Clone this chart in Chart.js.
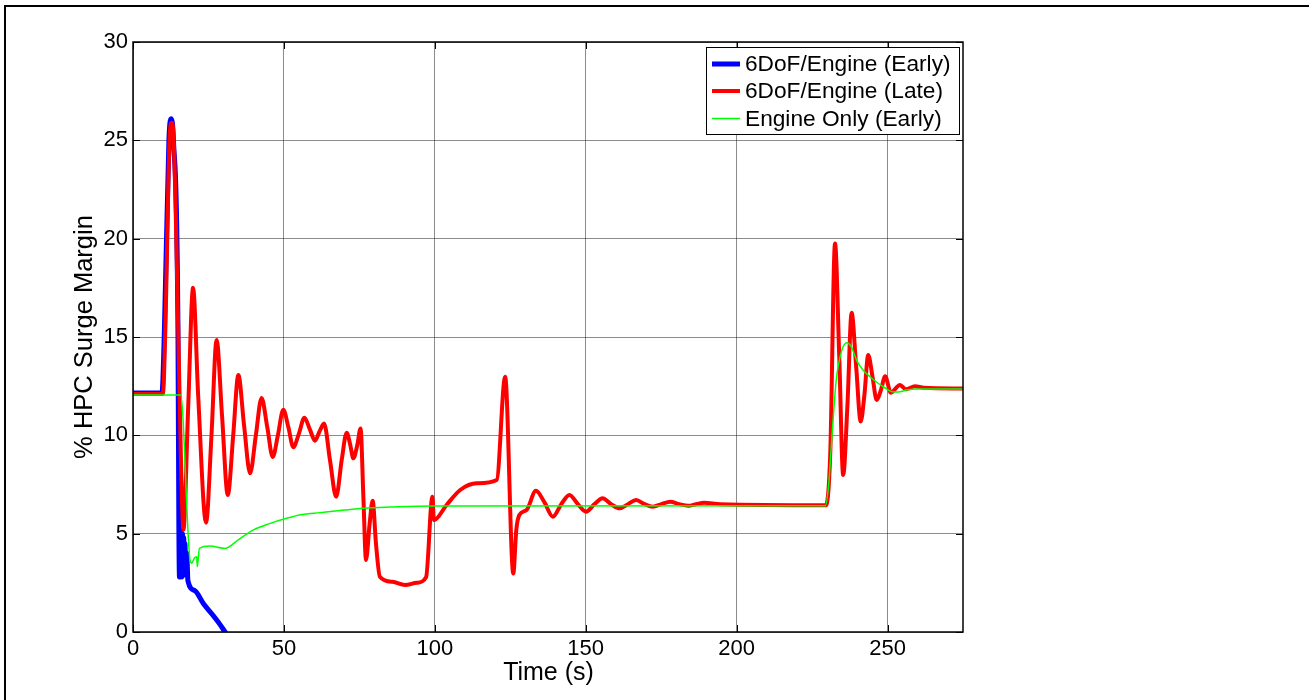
<!DOCTYPE html>
<html>
<head>
<meta charset="utf-8">
<script src="https://cdn.jsdelivr.net/npm/chart.js@4.4.1/dist/chart.umd.min.js"></script>
<style>
  html, body { margin: 0; padding: 0; background: #fff; }
  #contenedor { position: relative; width: 1309px; height: 700px; }
</style>
</head>
<body>
<div id="contenedor">
  <canvas id="miGrafica" width="1309" height="700"></canvas>
</div>
<script>
// datos de las tres corridas (tiempo en s, margen en %)
var earlyT = [0, 9.6, 10.4, 11.9, 12.6, 13.4, 14.9, 15.2, 15.4, 15.6, 15.8, 16.0, 16.2, 16.4, 16.6, 16.8, 17.0, 17.2, 17.5, 17.8, 18.2, 20.5, 23.3, 26.5, 28.5, 30.5];
var earlyV = [12.15, 12.15, 15.3, 25, 26.1, 25, 15.3, 5.3, 2.8, 5.2, 2.8, 5.1, 2.8, 5.0, 2.9, 4.8, 2.9, 4.5, 3.0, 4.0, 2.6, 2.1, 1.45, 0.85, 0.45, 0];

var lateT = [0, 9.9, 10.7, 12.1, 12.8, 13.5, 15.0, 16.0, 16.7, 18.3, 19.9, 21.6, 24.2, 26, 27.7, 29.5, 31.4, 33.2, 34.9, 36.8,
  38.8, 40.7, 42.6, 44.5, 46.3, 48, 49.8, 51.5, 53.1, 55, 56.8, 58.6, 60.3, 61.8, 63.3, 65.3, 67.3, 69.2, 70.8, 72,
  73, 74.3, 75.4, 76.3, 77.2, 78.4, 79.4, 80.5, 81.8, 86, 90.1, 94, 97.1, 99.2, 99.7, 103.9, 108.4, 113.9, 120.5, 123.3,
  126, 127, 128, 130.4, 133.5, 136.3, 139.1, 141.9, 144.6, 147.4, 150.1, 152.9, 155.6, 158.4, 161.2, 164, 166.7, 169.5, 172.2, 175.1,
  178, 181, 184, 186.6, 189.2, 194.5, 229.6, 231, 232.6, 234, 235.3, 236.7, 238.1, 239.6, 241.1, 242.3, 243.6, 245, 246.4, 247.8,
  249.2, 251.1, 254.1, 256.1, 259.1, 262, 275];
var lateV = [12.1, 12.1, 15.3, 25, 25.9, 25, 15.3, 8, 5.2, 11.5, 17.5, 12, 5.56, 10, 14.85, 11, 6.96, 10, 13.07, 10.5,
  8.07, 10, 11.9, 10.4, 8.9, 10, 11.3, 10.4, 9.4, 10.1, 10.9, 10.3, 9.73, 10.2, 10.6, 8.7, 6.88, 8.8, 10.13, 9.5,
  8.83, 9.5, 10.35, 7, 3.66, 5.5, 6.68, 4.5, 2.81, 2.55, 2.39, 2.5, 2.78, 6.88, 5.69, 6.46, 7.22, 7.56, 7.73, 12.98,
  2.98, 5.2, 5.95, 6.2, 7.18, 6.6, 5.86, 6.5, 6.97, 6.5, 6.12, 6.5, 6.8, 6.5, 6.29, 6.5, 6.71, 6.5, 6.37, 6.5,
  6.62, 6.5, 6.42, 6.5, 6.57, 6.5, 6.45, 9, 19.76, 14, 7.98, 11.5, 16.23, 13.5, 10.7, 12, 14.08, 13, 11.8, 12.3,
  13, 12.17, 12.56, 12.34, 12.5, 12.42, 12.38];

var engineT = [0, 15.8, 18.9, 19.5, 20.3, 21.1, 21.3, 22.0, 25.5, 30.5, 35, 39.9, 45, 50.9, 56, 62, 70, 76.3, 85, 99.5,
  229.4, 230.5, 231.5, 233, 234.8, 236.5, 238, 239.8, 242, 244.2, 246.4, 248.6, 251.4, 253.5, 256.3, 260, 275];
var engineV = [12.05, 12.05, 3.66, 3.5, 3.75, 3.83, 3.32, 4.25, 4.37, 4.25, 4.7, 5.19, 5.5, 5.78, 5.97, 6.07, 6.2, 6.29, 6.35, 6.41,
  6.42, 7.5, 9.76, 12.8, 14.3, 14.71, 14.5, 13.8, 13.3, 12.98, 12.7, 12.47, 12.22, 12.2, 12.3, 12.35, 12.35];

var seriesNames = ['6DoF/Engine (Early)', '6DoF/Engine (Late)', 'Engine Only (Early)'];
var xTicks = [0, 50, 100, 150, 200, 250];
var yTicks = [0, 5, 10, 15, 20, 25, 30];

var fuente = 'Arial, "Liberation Sans", sans-serif';

function puntos(ts, vs) {
  var out = [];
  for (var i = 0; i < ts.length; i++) {
    out.push({ x: ts[i], y: vs[i] });
  }
  return out;
}

function fijarTicks(valores) {
  return function (scale) {
    scale.ticks = valores.map(function (v) { return { value: v }; });
  };
}

// caja, marcas hacia adentro, leyenda y titulos estilo matlab
var marcoPlugin = {
  id: 'marco',
  beforeDraw: function (chart) {
    var ctx = chart.ctx;
    ctx.save();
    ctx.fillStyle = '#fff';
    ctx.fillRect(0, 0, chart.width, chart.height);
    ctx.restore();
  },
  afterDraw: function (chart) {
    var ctx = chart.ctx;
    var a = chart.chartArea;
    var xs = chart.scales.x, ys = chart.scales.y;
    var largo = 7;
    ctx.save();

    // marcas
    ctx.strokeStyle = '#000';
    ctx.lineWidth = 1;
    ctx.beginPath();
    xTicks.forEach(function (v) {
      var px = Math.round(xs.getPixelForValue(v)) + 0.5;
      ctx.moveTo(px, a.bottom); ctx.lineTo(px, a.bottom - largo);
      ctx.moveTo(px, a.top); ctx.lineTo(px, a.top + largo);
    });
    yTicks.forEach(function (v) {
      var py = Math.round(ys.getPixelForValue(v)) + 0.5;
      ctx.moveTo(a.left, py); ctx.lineTo(a.left + largo, py);
      ctx.moveTo(a.right, py); ctx.lineTo(a.right - largo, py);
    });
    ctx.stroke();

    // caja de ejes
    ctx.lineWidth = 1.5;
    ctx.strokeRect(a.left, a.top, a.right - a.left, a.bottom - a.top);

    // leyenda
    var lx = 706, ly = 47, lw = 253, lh = 87;
    ctx.fillStyle = '#fff';
    ctx.fillRect(lx, ly, lw, lh);
    ctx.lineWidth = 1;
    ctx.strokeStyle = '#000';
    ctx.strokeRect(lx + 0.5, ly + 0.5, lw, lh);
    var filas = [64, 91, 118.5];
    ctx.font = '22.7px ' + fuente;
    ctx.textBaseline = 'middle';
    ctx.textAlign = 'left';
    chart.data.datasets.forEach(function (ds, i) {
      ctx.strokeStyle = ds.borderColor;
      ctx.lineWidth = ds.borderWidth;
      ctx.beginPath();
      ctx.moveTo(712, filas[i]);
      ctx.lineTo(740, filas[i]);
      ctx.stroke();
      ctx.fillStyle = '#000';
      ctx.fillText(ds.label, 745, filas[i] + 1);
    });

    // titulos de ejes
    ctx.fillStyle = '#000';
    ctx.font = '25px ' + fuente;
    ctx.textAlign = 'center';
    ctx.textBaseline = 'alphabetic';
    ctx.fillText('Time (s)', (a.left + a.right) / 2 + 0.5, 680);
    ctx.translate(92, (a.top + a.bottom) / 2);
    ctx.rotate(-Math.PI / 2);
    ctx.font = '25.5px ' + fuente;
    ctx.fillText('% HPC Surge Margin', 0, 0);
    ctx.restore();

    // borde exterior
    ctx.save();
    ctx.fillStyle = '#000';
    ctx.fillRect(4, 5, chart.width - 4, 2);
    ctx.fillRect(4, 5, 2, chart.height - 5);
    ctx.restore();
  }
};

var ctx = document.getElementById('miGrafica').getContext('2d');
var chart = new Chart(ctx, {
  type: 'line',
  data: {
    datasets: [{
      label: seriesNames[0],
      data: puntos(earlyT, earlyV),
      borderColor: '#0000ff',
      borderWidth: 5,
      order: 3
    }, {
      label: seriesNames[1],
      data: puntos(lateT, lateV),
      borderColor: '#ff0000',
      borderWidth: 4,
      order: 2
    }, {
      label: seriesNames[2],
      data: puntos(engineT, engineV),
      borderColor: '#00ff00',
      borderWidth: 1.5,
      order: 1
    }]
  },
  options: {
    responsive: false,
    animation: false,
    devicePixelRatio: 1,
    layout: { padding: { left: 0, top: 42, right: 346, bottom: 0 } },
    elements: {
      point: { radius: 0 },
      line: { cubicInterpolationMode: 'monotone', fill: false, borderJoinStyle: 'round', borderCapStyle: 'round' }
    },
    plugins: {
      legend: { display: false },
      tooltip: { enabled: false }
    },
    scales: {
      x: {
        type: 'linear',
        min: 0,
        max: 275,
        afterBuildTicks: fijarTicks(xTicks),
        afterFit: function (scale) { scale.height = 68; },
        grid: { color: 'rgba(0,0,0,0.45)', lineWidth: 1, drawTicks: false },
        border: { display: false },
        ticks: { color: '#000', padding: 4, maxRotation: 0, font: { family: fuente, size: 22 } }
      },
      y: {
        type: 'linear',
        min: 0,
        max: 30,
        afterBuildTicks: fijarTicks(yTicks),
        afterFit: function (scale) { scale.width = 133; },
        grid: { color: 'rgba(0,0,0,0.45)', lineWidth: 1, drawTicks: false },
        border: { display: false },
        ticks: { color: '#000', padding: 5, font: { family: fuente, size: 22 } }
      }
    }
  },
  plugins: [marcoPlugin]
});
</script>
</body>
</html>
